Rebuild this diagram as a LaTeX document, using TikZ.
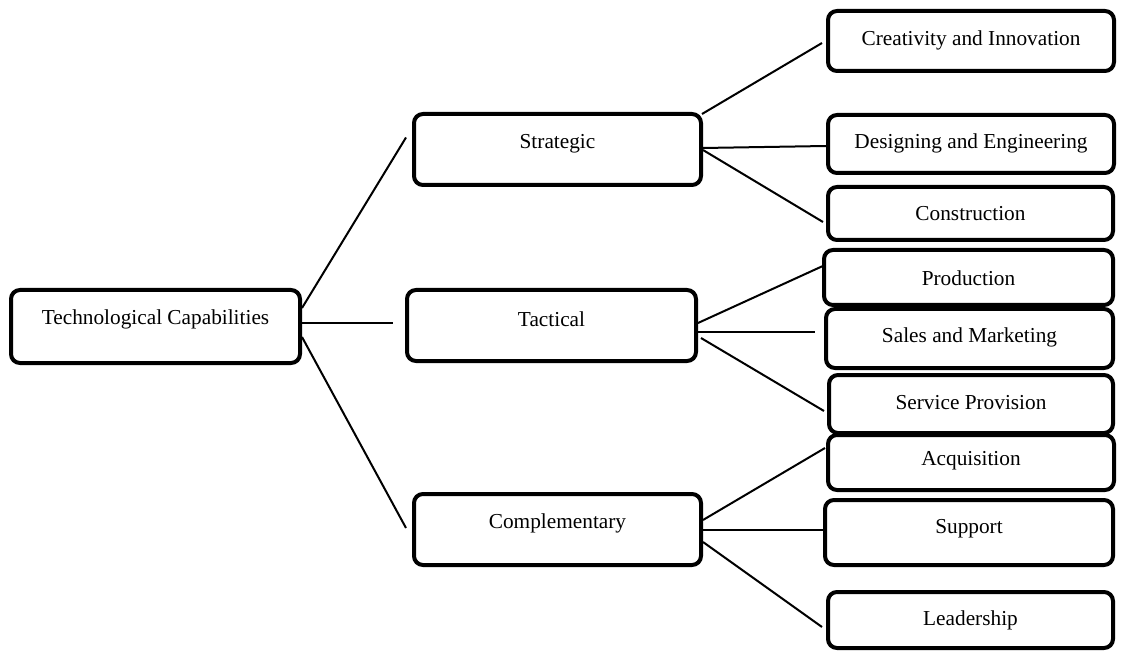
\documentclass[tikz,border=0pt]{standalone}
\usepackage{fontspec}
\setmainfont{Liberation Serif}
\begin{document}
\begin{tikzpicture}[x=1pt,y=-1pt,
  box/.style={draw=black, line width=4pt, rounded corners=9pt, fill=white, inner sep=0pt},
  txt/.style={font=\fontsize{21.3}{24}\selectfont, inner sep=0pt},
  conn/.style={draw=black, line width=2pt}]
\useasboundingbox (0,0) rectangle (1122,652);
% root
\node[box, minimum width=289pt, minimum height=73pt, label={[txt, yshift=7pt]center:Technological Capabilities}] (root) at (155.5,326.5) {};
% middle
\node[box, minimum width=287pt, minimum height=71pt, label={[txt, yshift=6pt]center:Strategic}] (strat) at (557.5,149.5) {};
\node[box, minimum width=289pt, minimum height=71pt, label={[txt, yshift=6pt]center:Tactical}] (tact) at (551.5,325.5) {};
\node[box, minimum width=287pt, minimum height=71pt, label={[txt, yshift=6pt]center:Complementary}] (compl) at (557.5,529.5) {};
% right
\node[box, minimum width=286pt, minimum height=60pt, label={[txt, yshift=1pt]center:Creativity and Innovation}] (creat) at (971,41) {};
\node[box, minimum width=286pt, minimum height=58pt, label={[txt, yshift=1pt]center:Designing and Engineering}] (design) at (971,144) {};
\node[box, minimum width=285pt, minimum height=53pt, label={[txt, yshift=0pt]center:Construction}] (constr) at (970.5,213.5) {};
\node[box, minimum width=289pt, minimum height=55pt, label={[txt, yshift=-1pt]center:Production}] (prod) at (968.5,277.5) {};
\node[box, minimum width=287pt, minimum height=59pt, label={[txt, yshift=1pt]center:Sales and Marketing}] (sales) at (969.5,338.5) {};
\node[box, minimum width=284pt, minimum height=58pt, label={[txt, yshift=1pt]center:Service Provision}] (serv) at (971,404) {};
\node[box, minimum width=286pt, minimum height=55pt, label={[txt, yshift=2pt]center:Acquisition}] (acq) at (971,462.5) {};
\node[box, minimum width=288pt, minimum height=65pt, label={[txt, yshift=4pt]center:Support}] (supp) at (969,532.5) {};
\node[box, minimum width=285pt, minimum height=56pt, label={[txt, yshift=0pt]center:Leadership}] (lead) at (970.5,620) {};
% connectors root
\draw[conn] ([yshift=18.5pt]root.east) -- ([xshift=-6pt,yshift=12pt]strat.west);
\draw[conn] ([yshift=3.5pt]root.east) -- ([xshift=-12pt,yshift=2.5pt]tact.west);
\draw[conn] ([yshift=-10.5pt]root.east) -- ([xshift=-6pt,yshift=1.5pt]compl.west);
% strategic
\draw[conn] ([xshift=-1pt,yshift=-2pt]strat.north east) -- ([xshift=-4pt,yshift=-2pt]creat.west);
\draw[conn] ([yshift=1.5pt]strat.east) -- ([yshift=-2pt]design.west);
\draw[conn] ([yshift=-0.5pt]strat.east) -- ([xshift=-3pt,yshift=-8.5pt]constr.west);
% tactical
\draw[conn] ([yshift=2.5pt]tact.east) -- ([xshift=3pt,yshift=12.5pt]prod.west);
\draw[conn] ([yshift=-6.5pt]tact.east) -- ([xshift=-9pt,yshift=6.5pt]sales.west);
\draw[conn] ([xshift=3pt,yshift=-12.5pt]tact.east) -- ([xshift=-3pt,yshift=-7pt]serv.west);
% complementary
\draw[conn] ([yshift=9.5pt]compl.east) -- ([xshift=-1pt,yshift=14.5pt]acq.west);
\draw[conn] ([yshift=-0.5pt]compl.east) -- ([yshift=2.5pt]supp.west);
\draw[conn] ([yshift=-12.5pt]compl.east) -- ([xshift=-4pt,yshift=-7pt]lead.west);
\end{tikzpicture}
\end{document}
